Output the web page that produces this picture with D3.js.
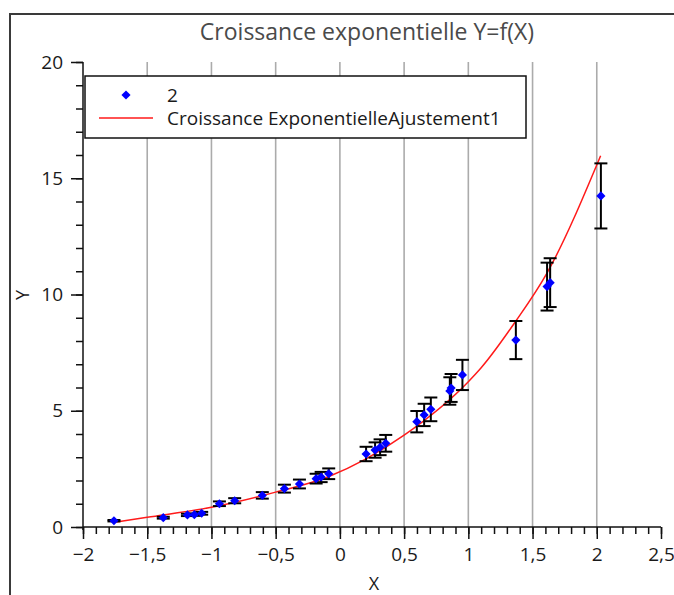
<!DOCTYPE html>
<html>
<head>
<meta charset="utf-8">
<script src="https://cdn.jsdelivr.net/npm/d3@7"></script>
<style>
  html, body { margin: 0; padding: 0; background: #fff; }
  svg { display: block; font-family: "Open Sans", "Noto Sans", sans-serif; }
</style>
</head>
<body>
<svg id="chart" width="674" height="595"></svg>
<script>
// ---- data ----
const pointX = [-1.759, -1.375, -1.187, -1.133, -1.076, -0.938, -0.819, -0.604, -0.432, -0.315,
                -0.185, -0.146, -0.087, 0.204, 0.274, 0.313, 0.357, 0.599, 0.656, 0.708,
                0.856, 0.866, 0.954, 1.370, 1.613, 1.637, 2.032];
const pointY = [0.27, 0.40, 0.52, 0.53, 0.59, 1.00, 1.13, 1.36, 1.65, 1.85,
                2.08, 2.15, 2.29, 3.14, 3.31, 3.43, 3.60, 4.53, 4.82, 5.06,
                5.85, 5.98, 6.54, 8.04, 10.34, 10.51, 14.24];
const pointErr = [0.03, 0.04, 0.05, 0.05, 0.06, 0.10, 0.11, 0.14, 0.17, 0.19,
                  0.21, 0.22, 0.23, 0.31, 0.33, 0.34, 0.36, 0.46, 0.48, 0.51,
                  0.59, 0.60, 0.65, 0.82, 1.03, 1.05, 1.40];
const fitX = [-1.74, -1.5, -1.0, -0.79, -0.5, -0.09, 0.2, 0.5, 1.0, 1.1, 1.37, 1.61, 2.03];
const fitY = [0.22, 0.42, 0.85, 1.10, 1.50, 2.16, 2.92, 3.95, 6.25, 6.85, 8.86, 10.90, 15.97];
const xTicks = [-2, -1.5, -1, -0.5, 0, 0.5, 1, 1.5, 2, 2.5];
const yTicks = [0, 5, 10, 15, 20];
const gridX = [-1.5, -1, -0.5, 0, 0.5, 1, 1.5, 2];
const titleText = "Croissance exponentielle Y=f(X)";
const xTitle = "X";
const yTitle = "Y";
const legendLabels = ["2", "Croissance ExponentielleAjustement1"];

// ---- drawing ----
const svg = d3.select("#chart");
const x = d3.scaleLinear().domain([-2, 2.5]).range([83, 661]);
const y = d3.scaleLinear().domain([0, 20]).range([527, 62]);
const loc = d3.formatLocale({decimal: ",", thousands: " ", grouping: [3], currency: ["", "€"], minus: "\u2212"});
const fmt = loc.format("~g");
const FONT = "\"Open Sans\", \"Noto Sans\", sans-serif";

// outer frame
svg.append("rect").attr("x", 10).attr("y", 14).attr("width", 700).attr("height", 640)
  .attr("fill", "none").attr("stroke", "#3a3a3a").attr("stroke-width", 2);

// title
svg.append("text").attr("x", 367).attr("y", 40).attr("text-anchor", "middle")
  .attr("font-size", 23).attr("fill", "#4a4a4a").text(titleText);

// grid
svg.append("g").selectAll("line").data(gridX).join("line")
  .attr("x1", d => x(d)).attr("x2", d => x(d))
  .attr("y1", y(20)).attr("y2", y(0))
  .attr("stroke", "#ababab").attr("stroke-width", 1.6);

// x axis
const xMinor = d3.range(-20, 26).map(i => i / 10);
const gx = svg.append("g").attr("transform", `translate(0,${y(0)})`);
gx.call(d3.axisBottom(x).tickValues(xMinor).tickSize(7).tickFormat(""));
gx.select(".domain").remove();
const gxMaj = svg.append("g").attr("transform", `translate(0,${y(0)})`)
  .call(d3.axisBottom(x).tickValues(xTicks).tickSize(12).tickPadding(9).tickFormat(fmt));
gxMaj.select(".domain").attr("d", `M${x(-2)},0H${x(2.5)}`);

// y axis
const yMinor = d3.range(0, 21);
const gy = svg.append("g").attr("transform", `translate(${x(-2)},0)`);
gy.call(d3.axisLeft(y).tickValues(yMinor).tickSize(7).tickFormat(""));
gy.select(".domain").remove();
const gyMaj = svg.append("g").attr("transform", `translate(${x(-2)},0)`)
  .call(d3.axisLeft(y).tickValues(yTicks).tickSize(12).tickPadding(8).tickFormat(fmt));
gyMaj.select(".domain").attr("d", `M0,${y(20)}V${y(0) + 3}`);

[gx, gxMaj, gy, gyMaj].forEach(g => {
  g.selectAll("line").attr("stroke", "#111").attr("stroke-width", 1.5);
  g.selectAll("path.domain").attr("stroke", "#111").attr("stroke-width", 1.5);
  g.selectAll("text").attr("font-size", 19).attr("fill", "#1a1a1a").attr("font-family", FONT);
});

// axis titles
svg.append("text").attr("x", 374).attr("y", 590).attr("text-anchor", "middle")
  .attr("font-size", 18).attr("fill", "#1a1a1a").text(xTitle);
svg.append("text").attr("transform", "translate(29,295) rotate(-90)").attr("text-anchor", "middle")
  .attr("font-size", 18).attr("fill", "#1a1a1a").text(yTitle);

// fit curve
const fitData = fitX.map((v, i) => [v, fitY[i]]);
svg.append("path").datum(fitData)
  .attr("d", d3.line().x(d => x(d[0])).y(d => y(d[1])).curve(d3.curveMonotoneX))
  .attr("fill", "none").attr("stroke", "#ff1a1a").attr("stroke-width", 1.5);

// error bars
const pts = pointX.map((v, i) => ({x: v, y: pointY[i], e: pointErr[i]}));
const eb = svg.append("g").attr("stroke", "#000").attr("stroke-width", 2);
eb.selectAll("line.v").data(pts).join("line").attr("class", "v")
  .attr("x1", d => x(d.x)).attr("x2", d => x(d.x))
  .attr("y1", d => y(d.y - d.e)).attr("y2", d => y(d.y + d.e));
eb.selectAll("line.t").data(pts).join("line").attr("class", "t")
  .attr("x1", d => x(d.x) - 6.5).attr("x2", d => x(d.x) + 6.5)
  .attr("y1", d => y(d.y + d.e)).attr("y2", d => y(d.y + d.e));
eb.selectAll("line.b").data(pts).join("line").attr("class", "b")
  .attr("x1", d => x(d.x) - 6.5).attr("x2", d => x(d.x) + 6.5)
  .attr("y1", d => y(d.y - d.e)).attr("y2", d => y(d.y - d.e));

// points (diamonds)
const diamond = d3.symbol().type(d3.symbolSquare).size(42);
svg.append("g").selectAll("path").data(pts).join("path")
  .attr("d", diamond)
  .attr("transform", d => `translate(${x(d.x)},${y(d.y)}) rotate(45)`)
  .attr("fill", "#0000ff");

// legend
const lg = svg.append("g");
lg.append("rect").attr("x", 85).attr("y", 76).attr("width", 441).attr("height", 62)
  .attr("fill", "#fff").attr("stroke", "#111").attr("stroke-width", 1.5);
lg.append("path").attr("d", diamond)
  .attr("transform", "translate(126,95) rotate(45)").attr("fill", "#0000ff");
lg.append("line").attr("x1", 99).attr("x2", 153).attr("y1", 118).attr("y2", 118)
  .attr("stroke", "#ff1a1a").attr("stroke-width", 1.5);
lg.selectAll("text").data(legendLabels).join("text")
  .attr("x", 167).attr("y", (d, i) => 102 + i * 23)
  .attr("font-size", 19).attr("fill", "#1a1a1a").text(d => d);
</script>
</body>
</html>
